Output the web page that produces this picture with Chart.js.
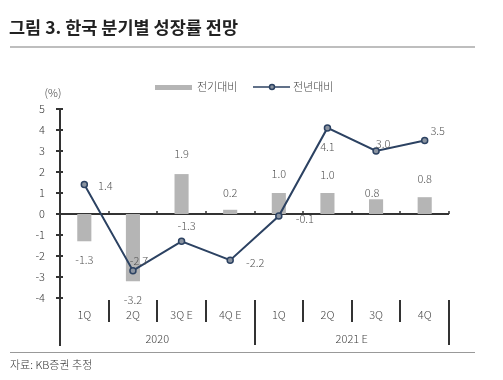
<!DOCTYPE html>
<html><head><meta charset="utf-8">
<script src="https://cdn.jsdelivr.net/npm/chart.js@4/dist/chart.umd.min.js"></script>
<style>html,body{margin:0;padding:0;background:#fff;}#c{position:absolute;left:0;top:0;}</style>
</head><body>
<canvas id="c" width="503" height="380"></canvas>
<script>
const title = '그림 3. 한국 분기별 성장률 전망';
const source = '자료: KB증권 추정';
const unitLabel = '(%)';
const categories = ['1Q', '2Q', '3Q E', '4Q E', '1Q', '2Q', '3Q', '4Q'];
const years = ['2020', '2021 E'];
const seriesNames = ['전기대비', '전년대비'];
const qoq = [-1.3, -3.2, 1.9, 0.2, 1.0, 1.0, 0.7, 0.8];
const qoqLabels = ['-1.3', '-3.2', '1.9', '0.2', '1.0', '1.0', '0.8', '0.8'];
const yoy = [1.4, -2.7, -1.3, -2.2, -0.1, 4.1, 3.0, 3.5];
const yoyLabels = ['1.4', '-2.7', '-1.3', '-2.2', '-0.1', '4.1', '3.0', '3.5'];
const yTicks = [5, 4, 3, 2, 1, 0, -1, -2, -3, -4];

const FONT = '"Noto Sans CJK KR", "Noto Sans", sans-serif';
const LIGHT = '300 11px ' + FONT;
const BAR = '#b5b5b5', LINE = '#2c4262', AXIS = '#333333';
// label offsets (px) relative to mark end
const qoqOff = [[0,19],[0,19],[0,-20],[0,-17],[0,-19],[0,-18],[-4,-6],[0,-18]];
const yoyOff = [[21,1],[6,-10],[5,-15],[25,3],[26,3],[0,19],[7,-7],[13,-10]];

const deco = {
  id: 'deco',
  beforeDatasetsDraw(chart) {
    const {ctx, chartArea: a, scales: {x, y}} = chart;
    const y0 = y.getPixelForValue(0);
    const n = categories.length;
    const w = (a.right - a.left) / n;
    ctx.save();
    ctx.strokeStyle = AXIS; ctx.lineWidth = 2;
    ctx.beginPath(); ctx.moveTo(a.left, y0); ctx.lineTo(a.right, y0); ctx.stroke();
    ctx.lineWidth = 1.5;
    for (let i = 1; i <= n; i++) {
      const bx = Math.round(a.left + i * w);
      ctx.beginPath(); ctx.moveTo(bx, y0); ctx.lineTo(bx, y0 - 3); ctx.stroke();
    }
    ctx.lineWidth = 2;
    yTicks.forEach(v => {
      const ty = Math.round(y.getPixelForValue(v));
      ctx.beginPath(); ctx.moveTo(a.left - 4, ty); ctx.lineTo(a.left + 3, ty); ctx.stroke();
    });
    ctx.restore();
  },
  afterDatasetsDraw(chart) {
    const {ctx, chartArea: a, scales: {x, y}} = chart;
    const n = categories.length;
    const w = (a.right - a.left) / n;
    ctx.save();
    // data labels
    ctx.font = LIGHT; ctx.fillStyle = '#555'; ctx.textAlign = 'center'; ctx.textBaseline = 'middle';
    const barMeta = chart.getDatasetMeta(1);
    barMeta.data.forEach((el, i) => {
      ctx.fillText(qoqLabels[i], el.x + qoqOff[i][0], el.y + qoqOff[i][1]);
    });
    const lineMeta = chart.getDatasetMeta(0);
    lineMeta.data.forEach((el, i) => {
      ctx.fillText(yoyLabels[i], el.x + yoyOff[i][0], el.y + yoyOff[i][1]);
    });
    // category axis
    ctx.strokeStyle = AXIS; ctx.lineWidth = 2;
    const sepTop = 300;
    for (let i = 1; i <= n; i++) {
      const bx = Math.round(a.left + i * w);
      const long = (i % 4 === 0);
      ctx.beginPath(); ctx.moveTo(bx, sepTop); ctx.lineTo(bx, long ? a.bottom : 322); ctx.stroke();
    }
    ctx.fillStyle = '#444'; ctx.font = LIGHT;
    categories.forEach((c, i) => {
      ctx.fillText(c, x.getPixelForValue(i), 315);
    });
    years.forEach((yr, k) => {
      ctx.fillText(yr, a.left + (k * 4 + 2) * w, 339);
    });
    // unit
    ctx.fillStyle = '#444';
    ctx.fillText(unitLabel, 53, 93);
    // legend
    ctx.fillStyle = BAR; ctx.fillRect(155, 85, 37, 5);
    ctx.fillStyle = '#444'; ctx.textAlign = 'left';
    ctx.fillText(seriesNames[0], 197, 87);
    ctx.strokeStyle = LINE; ctx.lineWidth = 1.5;
    ctx.beginPath(); ctx.moveTo(253, 87); ctx.lineTo(290, 87); ctx.stroke();
    ctx.beginPath(); ctx.arc(272, 87, 2.5, 0, Math.PI * 2); ctx.fillStyle = '#8a93a0'; ctx.fill(); ctx.stroke();
    ctx.fillStyle = '#444';
    ctx.fillText(seriesNames[1], 293, 87);
    // title
    ctx.fillStyle = '#222'; ctx.font = 'bold 17.5px ' + FONT;
    ctx.fillText(title, 9, 27);
    ctx.strokeStyle = '#a8a8a8'; ctx.lineWidth = 1.5;
    ctx.beginPath(); ctx.moveTo(10, 47); ctx.lineTo(475, 47); ctx.stroke();
    ctx.strokeStyle = '#999'; ctx.lineWidth = 1;
    ctx.beginPath(); ctx.moveTo(10, 352.5); ctx.lineTo(475, 352.5); ctx.stroke();
    ctx.fillStyle = '#333'; ctx.font = LIGHT;
    ctx.fillText(source, 10, 365);
    ctx.restore();
  }
};

new Chart(document.getElementById('c'), {
  data: {
    labels: categories,
    datasets: [
      { type: 'line', label: seriesNames[1], data: yoy, order: 0,
        borderColor: LINE, borderWidth: 2, pointRadius: 3, pointBorderWidth: 1.5,
        pointBackgroundColor: '#8a93a0', pointBorderColor: LINE, tension: 0 },
      { type: 'bar', label: seriesNames[0], data: qoq, order: 1,
        backgroundColor: BAR, categoryPercentage: 1, barPercentage: 0.29 }
    ]
  },
  options: {
    responsive: false, animation: false, devicePixelRatio: 1,
    layout: { padding: { left: 0, right: 54, top: 109, bottom: 35 } },
    plugins: { legend: { display: false }, tooltip: { enabled: false } },
    scales: {
      x: { display: false, offset: true },
      y: {
        min: -6.24, max: 5,
        afterFit(s) { s.width = 60; },
        afterBuildTicks(s) { s.ticks = yTicks.map(v => ({ value: v })); },
        grid: { display: false, drawTicks: false },
        border: { display: true, color: AXIS, width: 2 },
        ticks: { padding: 15, color: '#333', font: { family: FONT, size: 11, weight: 300 } }
      }
    }
  },
  plugins: [deco]
});
</script>
</body></html>
